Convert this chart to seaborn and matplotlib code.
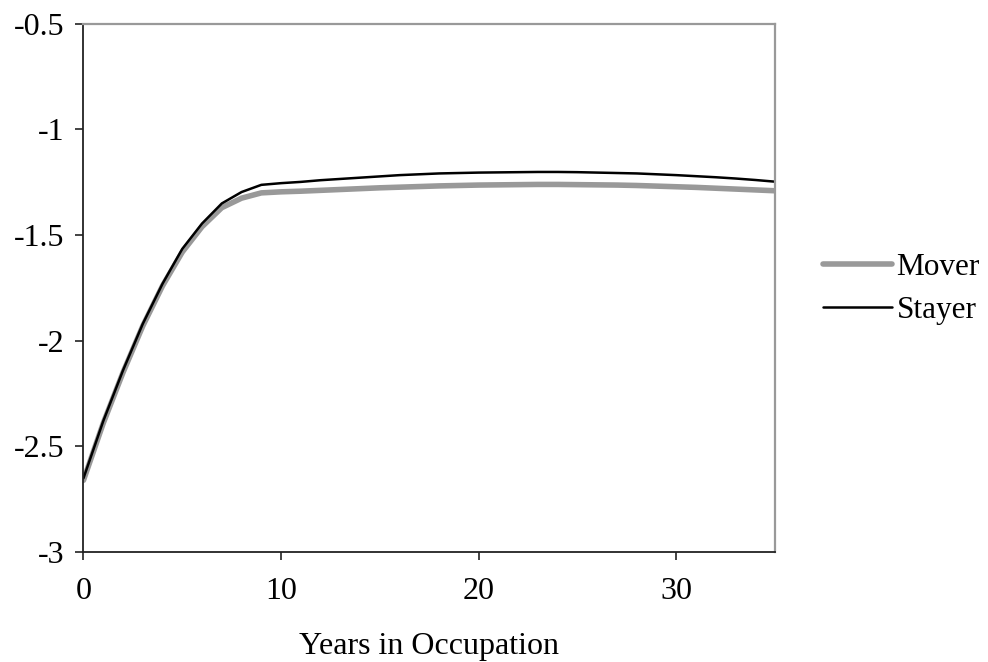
import numpy as np
import pandas as pd
import matplotlib
matplotlib.use("Agg")
import matplotlib.pyplot as plt
import seaborn as sns
from matplotlib.lines import Line2D

# данные
years = list(range(0, 36))
stayer = [-2.65, -2.38, -2.14, -1.92, -1.73, -1.565, -1.445, -1.35, -1.296, -1.262,
          -1.254, -1.248, -1.240, -1.234, -1.228, -1.222, -1.216, -1.212, -1.208, -1.206,
          -1.204, -1.203, -1.202, -1.201, -1.201, -1.202, -1.204, -1.206, -1.208, -1.212,
          -1.216, -1.221, -1.226, -1.232, -1.239, -1.247]
mover = [-2.66, -2.39, -2.15, -1.93, -1.74, -1.58, -1.46, -1.37, -1.325, -1.300,
         -1.295, -1.292, -1.288, -1.284, -1.280, -1.276, -1.273, -1.270, -1.267, -1.265,
         -1.263, -1.262, -1.261, -1.260, -1.260, -1.261, -1.262, -1.263, -1.265, -1.268,
         -1.271, -1.274, -1.278, -1.282, -1.286, -1.290]
x_ticks = [0, 10, 20, 30]
y_ticks = [-3, -2.5, -2, -1.5, -1, -0.5]
y_tick_labels = ['-3', '-2.5', '-2', '-1.5', '-1', '-0.5']

df = pd.DataFrame({'year': years * 2,
                   'value': mover + stayer,
                   'group': ['Mover'] * len(years) + ['Stayer'] * len(years)})

sns.set_style('white')
plt.rcParams['font.family'] = ['Liberation Serif', 'DejaVu Serif']
plt.rcParams['text.color'] = 'black'
plt.rcParams['axes.labelcolor'] = 'black'
plt.rcParams['xtick.labelcolor'] = 'black'
plt.rcParams['ytick.labelcolor'] = 'black'

fig = plt.figure(figsize=(9.88, 6.62), dpi=100)
ax = fig.add_axes([0.0845, 0.166, 0.700, 0.798])

sns.lineplot(data=df, x='year', y='value', hue='group', size='group',
             palette={'Mover': '#999999', 'Stayer': '#000000'},
             sizes={'Mover': 4.0, 'Stayer': 1.8},
             hue_order=['Mover', 'Stayer'], size_order=['Mover', 'Stayer'],
             ax=ax, legend=False)

ax.set_xlim(0, 35)
ax.set_ylim(-3, -0.5)
ax.set_xticks(x_ticks)
ax.set_yticks(y_ticks)
ax.set_yticklabels(y_tick_labels)
ax.tick_params(axis='both', labelsize=23, direction='out', length=5.8, width=1.2,
               color='#222222', labelcolor='black', left=True, bottom=True)
ax.tick_params(axis='x', pad=12)
ax.tick_params(axis='y', pad=8)
ax.set_xlabel('Years in Occupation', fontsize=23, labelpad=19, color='black')
ax.set_ylabel('')

for s in ['left', 'bottom']:
    ax.spines[s].set_color('#222222')
    ax.spines[s].set_linewidth(1.3)
for s in ['top', 'right']:
    ax.spines[s].set_color('#999999')
    ax.spines[s].set_linewidth(1.6)

# легенда справа
handles = [Line2D([], [], color='#999999', lw=4.0),
           Line2D([], [], color='#000000', lw=1.8)]
fig.legend(handles, ['Mover', 'Stayer'], loc='center left',
           bbox_to_anchor=(0.833, 0.564), frameon=False, fontsize=22.5,
           handlelength=2.2, handletextpad=0.15, labelspacing=0.45, borderaxespad=0,
           borderpad=0)

fig.savefig('out.png', dpi=100)
